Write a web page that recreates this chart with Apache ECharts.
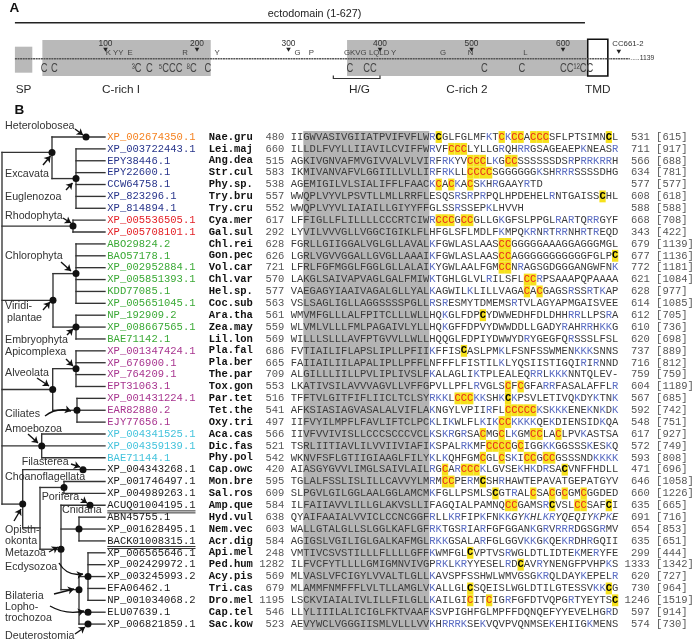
<!DOCTYPE html>
<html>
<head>
<meta charset="utf-8">
<title>Protein domain map and TMD alignment</title>
<script src="https://cdn.jsdelivr.net/npm/echarts@6/dist/echarts.min.js"></script>
<style>
html,body{margin:0;padding:0;background:#ffffff;}
#chart{width:693px;height:642px;}
</style>
</head>
<body>
<div id="chart"></div>
<script>
// ================= DATA : panel A (protein map) =================
const proteinLength = 1139;
const ectodomainRange = [1, 624];
const ectodomainLabel = 'ectodomain (1-627)';
const domainNames = ['SP', 'C-rich I', 'C-rich 2', 'TMD'];
const domainStart = [1, 31, 364, 627];
const domainEnd = [20, 215, 626, 649];
const hgRange = [349, 400];
const hgLabel = 'H/G';
const positionTicks = [100, 200, 300, 400, 500, 600];
const positionTickLabels = ['100', '200', '300', '400', '500', '600'];
const siteMarkerPos = [661];
const siteMarkerLabels = ['CC661-2'];
const residueMarks = ['K', 'YY', 'E', 'R', 'Y', 'G', 'P', 'GKVG', 'LQLD', 'Y', 'G', 'N', 'L'];
const residueMarkPos = [103, 114, 127, 187, 222, 310, 325, 373, 399, 415, 469, 499, 559];
const cysMarks = ['C', 'C', '\u00B3C', 'C', '\u2075CCC', '\u2078C', 'C', 'C', 'CC', 'C', 'C', 'CC\u00B9\u00B2CC'];
const cysMarkPos = [33, 44, 134, 148, 171, 194, 212, 367, 389, 514, 555, 615];

// ================= DATA : panel B (tree + alignment) =================
const accessions = ['XP_002674350.1','XP_003722443.1','EPY38446.1','EPY22600.1','CCW64758.1','XP_823296.1','XP_814894.1',
 'XP_005536505.1','XP_005708101.1','ABO29824.2','BAO57178.1','XP_002952884.1','XP_005851393.1','KDD77085.1','XP_005651045.1',
 'NP_192909.2','XP_008667565.1','BAE71142.1','XP_001347424.1','XP_676900.1','XP_764209.1','EPT31063.1','XP_001431224.1',
 'EAR82880.2','EJY77656.1','XP_004341525.1','XP_004359139.1','BAE71144.1','XP_004343268.1','XP_001746497.1','XP_004989263.1',
 'ACUQ01004195.1','ABN45755.1','XP_001628495.1','BACK01008315.1','XP_006565646.1','XP_002429972.1','XP_003245993.2',
 'EFA06462.1','NP_001034068.2','ELU07639.1','XP_006821859.1'];
const species = ['Nae.gru','Lei.maj','Ang.dea','Str.cul','Phy.sp.','Try.bru','Try.cru','Cya.mer','Gal.sul','Chl.rei','Gon.pec',
 'Vol.car','Chl.var','Hel.sp.','Coc.sub','Ara.tha','Zea.may','Lil.lon','Pla.fal','Pla.ber','The.par','Tox.gon','Par.tet',
 'Tet.the','Oxy.tri','Aca.cas','Dic.fas','Phy.pol','Cap.owc','Mon.bre','Sal.ros','Amp.que','Hyd.vul','Nem.vec','Acr.dig',
 'Api.mel','Ped.hum','Acy.pis','Tri.cas','Dro.mel','Cap.tel','Sac.kow'];
const taxonGroup = ['Heterolobosea','Euglenozoa','Euglenozoa','Euglenozoa','Euglenozoa','Euglenozoa','Euglenozoa',
 'Rhodophyta','Rhodophyta','Viridiplantae','Viridiplantae','Viridiplantae','Viridiplantae','Viridiplantae','Viridiplantae',
 'Viridiplantae','Viridiplantae','Viridiplantae','Alveolata','Alveolata','Alveolata','Alveolata','Alveolata','Alveolata',
 'Alveolata','Amoebozoa','Amoebozoa','Amoebozoa','Opisthokonta','Opisthokonta','Opisthokonta','Opisthokonta','Opisthokonta',
 'Opisthokonta','Opisthokonta','Opisthokonta','Opisthokonta','Opisthokonta','Opisthokonta','Opisthokonta','Opisthokonta','Opisthokonta'];
const genomicAccessions = ['ACUQ01004195.1', 'BACK01008315.1'];
const startPos = [480,660,515,583,538,557,552,617,292,628,626,721,570,577,563,561,559,569,686,665,709,553,516,541,497,566,521,542,
 420,595,609,584,638,603,584,248,1282,569,679,1195,546,523];
const endPos = [531,711,566,634,577,608,588,668,343,679,677,772,621,628,614,612,610,620,737,716,759,604,567,592,548,617,572,593,
 471,646,660,635,691,654,635,299,1333,620,730,1246,597,574];
const totalLength = [615,917,688,781,577,618,588,708,422,1139,1136,1181,1084,977,1085,705,736,698,889,812,759,1189,685,742,751,
 927,749,808,696,1058,1226,665,716,853,651,444,1342,727,964,1519,914,730];
const sequences = [
 'IIGWVASIVGIIATPVIFVFLWRCGLFGLMFKTCKCCACCCSFLPTSIMNCL',
 'ILLDLFVYLLIIAVILCVIFFWRVFCCCLYLLGRQHRRGSAGEAEPKNEASR',
 'AGKIVGNVAFMVGIVVALVLVIRFRKYVCCCLKGCCSSSSSSDSRPRRKRRH',
 'IKMIVANVAFVLGGIILLVLLIRFRKLLCCCCSGGGGGGKSHRRRSSSSDHG',
 'AGEMIGILVLSIALIFFLFAACKCACKACSKHRGAAYRTD',
 'WWQPLVYVLPSVTLLMLLRRFLESQSRSRPRPQLHPDEHELRNTGAISSCHL',
 'WWQPLVYVLIAIAILLGIYYFFGLSSRSSEPKLHVVH',
 'LFFIGLLFLILLLLCCCRTCIWRCCCGCCGLLGKGFSLPPGLRARTQRRGYF',
 'LYVILVVVGLLVGGCIGIKLFLHFGLSFLMDLFKMPQKRNRTRRNHRTREQD',
 'FGRLLGIIGGALVGLGLLAVALKFGWLASLAASCCGGGGGAAAGGAGGGMGL',
 'LGRLVGVVGGALLGVGLLAAAIKFGWLASLAASCCAGGGGGGGGGGGFGLPC',
 'LFRLFGFMGGLFGGLGLLALAIKYGWLAALFGMCCNRAGSGDGGGANGWFNK',
 'LAKGLSAIVAPVAGLGALFMIWKTGHLGLVLRILSFLCCRPSAAAPQPAAAA',
 'VAEGAGYIAAIVAGALGLLYALKAGWILKLILLVAGACACGAGSRSSRTKAP',
 'VSLSAGLIGLLAGGSSSSPGLLRSRESMYTDMEMSRTVLAGYAPMGAISVEE',
 'WMVMFGLLLALFPITCLLLWLLHQKGLFDPCYDWWEDHFDLDHHRRLLPSRA',
 'WLVMLVLLLFMLPAGAIVLYLLHQKGFFDPVYDWWDDLLGADYRAHRRHKKG',
 'WILLLSLLLAVFPTGVVLLWLLHQQGLFDPIYDWWYDRYGEGFQRSSSLFSL',
 'FVTIAILIFLAPSLIPLLPFIIKFFISCASLPMKLFSNFSSWMENKKKSNNS',
 'FAIIAILIILAPALIPLLPFFLNFFFLFISTILKLYQSIISTIGQIRIRNND',
 'ALGILLLIILLPVLIPLIVSLFKALAGLIKTPLEALEQRRLKKKNNTQLEV-',
 'LKATIVSILAVVVAGVLLVFFGPVLLPFLRVGLSCFCGFARRFASALAFFLR',
 'TFFTVLGITFIFLIICLTCLSYRKKLCCCKKSHKCKPSVLETIVQKDYKTNK',
 'AFKSIASIAGVASALALVIFLAKNGYLVPIIRFLCCCCCKSKKKENEKNKDK',
 'IIFVYILMPFLFAVLIFTCLPCKLIKWLFLKIKCCKKKKQEKDIENSIDKQA',
 'IIVFVVIVISLLCCCSCCCVCLKSKRGRSACMGCLKGMCCLACLPVKASTSA',
 'TSRLIITIAVLILVVIIVIAFIKSPALRKMFCCCCGCIGGKKGGSSSKESKQ',
 'WKNVFSFLGTIIGIAAGLFILYKLKQHFGMCGLCSKICCGCCGSSSNDKKKK',
 'AIASGYGVVLIMGLSAIVLAILRGCARCCCKLGVSEKHKDRSACVNFFHDLL',
 'TGLALFSSLISLILLCAVVYLMRMCCPERMCSHRHAWTEPAVATGEPATGYV',
 'SLPGVLGILGGLAALGGLAMCMKFGLLPSMLSCGTRALCSACGCGMCGGDED',
 'ILFAIIAVVLILLGLAKVSLLIFAGQIALPAMNQCCGAMSRCVSLCCSAFCI',
 'QYAIFAAIALVVICLCCNCGGFRLLKRFIPKFNKKGYKHLKRYQEQIYKPKE',
 'WALLGTALGLLSLGGLKAFLGFRKTGSRIARFGFGGANKGRVRRRDGSGRMV',
 'AGIGSLVGILIGLGALKAFMGLRKKGSALARFGLGGVKKGKQEKRDHRGQII',
 'VMTIVCSVSTILLLFLLLLGFFKWMFGLCVPTVSRWGLDTLIDTEKMERYFE',
 'ILFVCFYTLLLLGMIGMNVIVGPRKLKRYYESELRDCAVRYNENGFPVHPKS',
 'MLVASLVFCIGYLVVALTLGLLKAVSPFSSHWLWMVGSGKRQLDAYKEPELR',
 'MLAMMFNMFFFLVLTLLAMGLVKALLGLCSQEISLWGLDTILGTESSVKKCG',
 'LSCKVIAIALIVLILLFILGLLKAILGICITCIGRFGFDTVQPGRTYEYTSC',
 'LLYLIIILALICIGLFKTVAAFKSVPIGHFGLMPFFDQNQEFYYEVELHGRD',
 'AEVYWCLVGGGIISMLVLLLVVKHRRRKSEKVQVPVQNMSEKEHIIGKMENS'];
const tmdColumns = [2, 22];          // aligned columns of the transmembrane segment (shaded)
const italicFrom = {32: 35};         // Hyd.vul: tail set in italics

// Tree topology (x = branch depth, leaves = row indices)
const treeTopology = {name: 'root', x: 2, dot: false, children: [
  {name: 'Excavata', x: 52, y: 1.3, children: [
    {leaf: 0, name: 'Heterolobosea', dotX: 86},
    {name: 'Euglenozoa', x: 76, children: [1, 2, 3, 4, 5, 6]}]},
  {name: 'Rhodophyta', x: 73, children: [7, 8]},
  {name: 'Viridiplantae', x: 53, children: [
    {name: 'Chlorophyta', x: 76, children: [9, 10, 11, 12, 13, 14]},
    {name: 'Embryophyta', x: 76, children: [15, 16, 17]}]},
  {name: 'Alveolata', x: 52.7, children: [
    {name: 'Apicomplexa', x: 76, children: [18, 19, 20, 21]},
    {name: 'Ciliates', x: 77, children: [22, 23, 24]}]},
  {name: 'Amoebozoa', x: 41.7, children: [25, 26, 27]},
  {name: 'Opisthokonta', x: 22.7, y: 30.9, children: [
    {leaf: 28, name: 'Filasterea', dotX: 83},
    {name: 'Choanozoa', x: 40, y: 32.9, dot: false, children: [
      {name: 'Choanoflagellata', x: 64, children: [29, 30]},
      {name: 'Metazoa', x: 61, y: 34.7, children: [
        {leaf: 31, name: 'Porifera', dotX: 90},
        {name: 'Cnidaria', x: 79, children: [32, 33, 34]},
        {name: 'Bilateria', x: 79, y: 38.1, children: [
          {name: 'Ecdysozoa', x: 88, children: [35, 36, 37, 38, 39]},
          {leaf: 40, name: 'Lophotrochozoa', dotX: 88},
          {leaf: 41, name: 'Deuterostomia', dotX: 88}]}]}]}]}
]};

// Clade annotations (text) and their pointer arrows
const cladeLabels = ['Heterolobosea','Excavata','Euglenozoa','Rhodophyta','Chlorophyta','Viridi-','plantae','Embryophyta',
 'Apicomplexa','Alveolata','Ciliates','Amoebozoa','Filasterea','Choanoflagellata','Porifera','Cnidaria','Opisth-','okonta',
 'Metazoa','Ecdysozoa','Bilateria','Lopho-','trochozoa','Deuterostomia'];

// ================= LAYOUT / STYLE (not data) =================
const cladeLabelXY = [[5,126],[5,174],[5,197],[5,216],[5,256],[5,306],[7,318],[5,340],[5,352],[5,373],[5,414],[5,429],
 [21.7,462],[5,477],[41.7,497],[62,510],[5,530],[5,541],[5,553],[5,567],[5,596],[5,607.5],[5,618.5],[5,636]];
const arrowLayout = [
 [75,129,83,135,0],[43,165,50.5,156,0],[66,190,72.5,183,0],[63,218,71,223,0],[61,262,71,271,0],[43,310,50,302,0],
 [67,335,73,329,0],[66,359,73,366,0],[37,378,49,386,0],[45,416,71,411,0.25],[28,434,38,443,0],[71,464,80,467,0],
 [81,499,87,503,0],[14,521,21,509,0],[49,552,58,547,0],[59,563,83,574,-0.35],[54,594,74,589,0],[50,606,84,611,-0.2],
 [75,634,85,627,0]];

const SANS = '"Liberation Sans", Arial, Helvetica, sans-serif';
const NARROW = '"Liberation Sans Narrow", "Liberation Sans", Arial, sans-serif';
const MONO = '"Liberation Mono", "Courier New", monospace';
const GROUP_COLORS = {Heterolobosea: '#f58220', Euglenozoa: '#27348b', Rhodophyta: '#e31e24', Viridiplantae: '#3aa935',
  Alveolata: '#a8348f', Amoebozoa: '#43c3dc', Opisthokonta: '#1a1a1a'};
const TEXT = '#3a3a3a', BLUE = '#5a6cc2', RED = '#e8261f', HILITE = '#f6e11c', SHADE = '#b4b4b4', TREE = '#333333';
const LEAF_END = 105, ACC_X = 107.3;

// ================= RENDERERS =================
function txt(x, y, text, o) {
  return {type: 'text', x: x, y: y, style: Object.assign({text: text, fill: '#333', fontFamily: SANS, fontSize: 10.8,
    align: 'left', verticalAlign: 'middle'}, o || {})};
}

// Panel A ---------------------------------------------------------
function renderDomains(params, api) {
  const i = params.dataIndex;
  const s = api.value(0), e = api.value(1);
  const name = domainNames[i];
  let top = 40, bot = 76, style = {fill: '#b9b9b9'};
  if (name === 'SP') { top = 46.7; bot = 72.7; }
  if (name === 'TMD') { top = 39.3; bot = 76; style = {fill: '#ffffff', stroke: '#111', lineWidth: 1.6}; }
  const a = api.coord([s, top]), b = api.coord([e, bot]);
  let cx = (s + e) / 2;
  if (name === 'C-rich I') cx -= 6;
  const c = api.coord([cx, 89.5]);
  return {type: 'group', children: [
    {type: 'rect', shape: {x: a[0], y: a[1], width: b[0] - a[0], height: b[1] - a[1]}, style: style},
    txt(c[0], c[1], name, {align: 'center', fontSize: 11.8, fill: '#2a2a2a'})
  ]};
}
function renderBackbone(params, api) {
  const a = api.coord([api.value(0), 58.7]), b = api.coord([api.value(1), 58.7]);
  const ea = api.coord([ectodomainRange[0], 22.7]), eb = api.coord([ectodomainRange[1], 22.7]);
  const et = api.coord([(ectodomainRange[0] + ectodomainRange[1]) / 2 + 16, 14.5]);
  const ha = api.coord([hgRange[0], 78.5]), hb = api.coord([hgRange[1], 78.5]);
  const ht = api.coord([(hgRange[0] + hgRange[1]) / 2 + 3, 89.5]);
  return {type: 'group', children: [
    {type: 'line', shape: {x1: a[0], y1: a[1], x2: b[0], y2: b[1]}, style: {stroke: '#555', lineWidth: 1.5, lineDash: [2, 0.6]}},
    txt(b[0] + 0.5, b[1] - 1, '.....' + proteinLength, {fontSize: 6.8, fill: '#333'}),
    {type: 'line', shape: {x1: ea[0], y1: ea[1], x2: eb[0], y2: eb[1]}, style: {stroke: '#222', lineWidth: 1.4}},
    txt(et[0], et[1], ectodomainLabel, {align: 'center', fontSize: 10.8, fill: '#222'}),
    {type: 'polyline', shape: {points: [[ha[0], ha[1] - 3], [ha[0], ha[1]], [hb[0], hb[1]], [hb[0], hb[1] - 3]]},
      style: {stroke: '#333', lineWidth: 1.2, fill: null}},
    txt(ht[0], ht[1], hgLabel, {align: 'center', fontSize: 11.8, fill: '#2a2a2a'})
  ]};
}
const tickPosAll = positionTicks.concat(siteMarkerPos);
const tickLabelAll = positionTickLabels.concat(siteMarkerLabels);
function renderTicks(params, api) {
  const i = params.dataIndex;
  const pos = api.value(0), label = tickLabelAll[i];
  const isSite = i >= positionTicks.length;
  const p = api.coord([pos, isSite ? 52 : 50]);
  const t = api.coord([pos, 43.5]);
  return {type: 'group', children: [
    {type: 'polygon', shape: {points: [[p[0] - 2.3, p[1] - 2.2], [p[0] + 2.3, p[1] - 2.2], [p[0], p[1] + 1.8]]}, style: {fill: '#222'}},
    txt(isSite ? t[0] - 6.5 : t[0], t[1], label, {align: isSite ? 'left' : 'center', fontSize: isSite ? 7.8 : 8.4,
      fontFamily: NARROW, fill: '#333'})
  ]};
}
function renderResidues(params, api) {
  const p = api.coord([api.value(0), 53.3]);
  return txt(p[0], p[1], residueMarks[params.dataIndex], {align: 'center', fontSize: 7.8, fill: '#444'});
}
function renderCys(params, api) {
  const p = api.coord([api.value(0), 68.5]);
  const el = txt(p[0], p[1], cysMarks[params.dataIndex], {align: 'center', fontSize: 12, fontFamily: SANS, fill: '#444'});
  el.scaleX = 0.78;
  return el;
}

// Panel B ---------------------------------------------------------
function renderShade(params, api) {
  const a = api.coord([api.value(0), -0.5]), b = api.coord([api.value(1), sequences.length - 0.5]);
  return {type: 'rect', shape: {x: a[0], y: a[1], width: b[0] - a[0], height: b[1] - a[1]}, style: {fill: SHADE}};
}
function renderRow(params, api) {
  const r = params.dataIndex;
  const seq = sequences[r];
  const sz = api.size([1, 1]);
  const cw = sz[0], rh = sz[1];
  const children = [];
  const cys = [];
  for (let i = tmdColumns[1]; i < seq.length; i++) if (seq[i] === 'C') cys.push(i);
  cys.forEach(function (i) {
    const p = api.coord([i + 0.5, r]);
    children.push({type: 'rect', shape: {x: p[0] - cw / 2, y: p[1] - rh / 2, width: cw, height: rh}, style: {fill: HILITE}});
  });
  for (let i = 0; i < seq.length; i++) {
    const ch = seq[i];
    const p = api.coord([i + 0.5, r]);
    let fill = TEXT, weight = 'normal';
    if (i >= tmdColumns[1] && (ch === 'K' || ch === 'R')) fill = BLUE;
    if (i >= tmdColumns[1] && ch === 'C') {
      const clustered = cys.some(function (j) { return j !== i && Math.abs(j - i) <= 3; });
      if (clustered) { fill = RED; } else { fill = '#000'; weight = 'bold'; }
    }
    const it = (italicFrom[r] !== undefined && i >= italicFrom[r]) ? 'italic' : 'normal';
    children.push(txt(p[0], p[1], ch, {align: 'center', fontFamily: MONO, fontSize: 10.5, fill: fill, fontWeight: weight, fontStyle: it}));
  }
  const sp = api.coord([-13, r]), st = api.coord([-1, r]), en = api.coord([57, r]), tl = api.coord([58, r]);
  children.push(txt(sp[0], sp[1], species[r], {fontFamily: MONO, fontSize: 10.5, fontWeight: 'bold', fill: '#111'}));
  children.push(txt(st[0], st[1], String(startPos[r]), {align: 'right', fontFamily: MONO, fontSize: 10.5, fill: '#555'}));
  children.push(txt(en[0], en[1], String(endPos[r]), {align: 'right', fontFamily: MONO, fontSize: 10.5, fill: '#555'}));
  children.push(txt(tl[0], tl[1], '[' + totalLength[r] + ']', {fontFamily: MONO, fontSize: 10.5, fill: '#555'}));
  return {type: 'group', children: children};
}
function renderAccession(params, api) {
  const r = params.dataIndex;
  const p = api.coord([ACC_X, r]);
  const color = GROUP_COLORS[taxonGroup[r]];
  const children = [txt(p[0], p[1], accessions[r], {fontFamily: MONO, fontSize: 10.5, fill: color})];
  if (genomicAccessions.indexOf(accessions[r]) >= 0) {
    const w = accessions[r].length * 6.3;
    [5.6, 7.6].forEach(function (dy) {
      children.push({type: 'line', shape: {x1: p[0], y1: p[1] + dy, x2: p[0] + w, y2: p[1] + dy}, style: {stroke: color, lineWidth: 0.9}});
    });
  }
  return {type: 'group', children: children};
}
function renderTree(params, api) {
  const children = [], dots = [];
  function seg(x1, y1, x2, y2) {
    const a = api.coord([x1, y1]), b = api.coord([x2, y2]);
    children.push({type: 'line', shape: {x1: a[0], y1: a[1], x2: b[0], y2: b[1]}, style: {stroke: TREE, lineWidth: 1.35, lineCap: 'square'}});
  }
  function attachY(n) {
    if (typeof n === 'number') return n;
    if (n.leaf !== undefined) return n.leaf;
    if (n.y !== undefined) return n.y;
    const ys = n.children.map(attachY);
    return (Math.min.apply(null, ys) + Math.max.apply(null, ys)) / 2;
  }
  function draw(n, px) {
    if (typeof n === 'number' || n.leaf !== undefined) {
      const k = typeof n === 'number' ? n : n.leaf;
      seg(px, k, LEAF_END, k);
      if (n.dotX !== undefined) dots.push([n.dotX, k]);
      return;
    }
    const ys = n.children.map(attachY);
    seg(n.x, Math.min.apply(null, ys), n.x, Math.max.apply(null, ys));
    const ay = attachY(n);
    if (px !== null) seg(px, ay, n.x, ay);
    n.children.forEach(function (c) { draw(c, n.x); });
    if (n.dot !== false) dots.push([n.x, ay]);
  }
  draw(treeTopology, null);
  dots.forEach(function (d) {
    const c = api.coord(d);
    children.push({type: 'circle', shape: {cx: c[0], cy: c[1], r: 3.5}, style: {fill: '#111'}});
  });
  return {type: 'group', children: children};
}
function renderCladeLabel(params, api) {
  const p = api.coord([api.value(0), api.value(1)]);
  return txt(p[0], p[1], cladeLabels[params.dataIndex], {fontSize: 10.7, fill: '#333'});
}
function renderPanelLetter(params, api) {
  const p = api.coord([api.value(0), api.value(1)]);
  return txt(p[0], p[1], params.dataIndex === 0 ? 'A' : 'B', {fontSize: 13.5, fontWeight: 'bold', fill: '#111'});
}

// ================= CHART =================
const nRows = sequences.length;
const rowTop = 125.12, rowStep = 11.88;
const hiddenAxis = function (extra) { return Object.assign({type: 'value', show: false, scale: false}, extra); };
const option = {
  backgroundColor: '#ffffff',
  animation: false,
  grid: [
    {left: 14, top: 0, width: 640.5, height: 95, containLabel: false, outerBoundsMode: 'none'},
    {left: 0, top: rowTop, width: 693, height: rowStep * (nRows + 1), containLabel: false, outerBoundsMode: 'none'},
    {left: 290.7, top: rowTop, width: 52 * 6.3, height: rowStep * (nRows + 1), containLabel: false, outerBoundsMode: 'none'},
    {left: 0, top: 0, width: 693, height: 642, containLabel: false, outerBoundsMode: 'none'}
  ],
  xAxis: [
    hiddenAxis({gridIndex: 0, min: 0, max: 700}),
    hiddenAxis({gridIndex: 1, min: 0, max: 693}),
    hiddenAxis({gridIndex: 2, min: 0, max: 52}),
    hiddenAxis({gridIndex: 3, min: 0, max: 693})
  ],
  yAxis: [
    hiddenAxis({gridIndex: 0, min: 0, max: 95, inverse: true}),
    hiddenAxis({gridIndex: 1, min: -1, max: nRows, inverse: true}),
    hiddenAxis({gridIndex: 2, min: -1, max: nRows, inverse: true}),
    hiddenAxis({gridIndex: 3, min: 0, max: 642, inverse: true})
  ],
  series: [
    {type: 'custom', name: 'domains', xAxisIndex: 0, yAxisIndex: 0, clip: false, silent: true, z: 1,
      data: domainStart.map(function (s, i) { return [s, domainEnd[i]]; }), renderItem: renderDomains},
    {type: 'custom', name: 'backbone', xAxisIndex: 0, yAxisIndex: 0, clip: false, silent: true, z: 2,
      data: [[1, 673]], renderItem: renderBackbone},
    {type: 'custom', name: 'ticks', xAxisIndex: 0, yAxisIndex: 0, clip: false, silent: true, z: 3,
      data: tickPosAll.map(function (p) { return [p, 50]; }), renderItem: renderTicks},
    {type: 'custom', name: 'residues', xAxisIndex: 0, yAxisIndex: 0, clip: false, silent: true, z: 3,
      data: residueMarkPos.map(function (p) { return [p, 53]; }), renderItem: renderResidues},
    {type: 'custom', name: 'cysteines', xAxisIndex: 0, yAxisIndex: 0, clip: false, silent: true, z: 3,
      data: cysMarkPos.map(function (p) { return [p, 68]; }), renderItem: renderCys},
    {type: 'custom', name: 'tmdShade', xAxisIndex: 2, yAxisIndex: 2, clip: false, silent: true, z: 1,
      data: [tmdColumns], renderItem: renderShade},
    {type: 'custom', name: 'alignment', xAxisIndex: 2, yAxisIndex: 2, clip: false, silent: true, z: 2,
      data: sequences.map(function (s, i) { return [0, i]; }), renderItem: renderRow},
    {type: 'custom', name: 'accessions', xAxisIndex: 1, yAxisIndex: 1, clip: false, silent: true, z: 2,
      data: accessions.map(function (s, i) { return [ACC_X, i]; }), renderItem: renderAccession},
    {type: 'custom', name: 'tree', xAxisIndex: 1, yAxisIndex: 1, clip: false, silent: true, z: 3,
      data: [[0, 0]], renderItem: renderTree},
    {type: 'custom', name: 'cladeLabels', xAxisIndex: 3, yAxisIndex: 3, clip: false, silent: true, z: 4,
      data: cladeLabelXY, renderItem: renderCladeLabel},
    {type: 'custom', name: 'panelLetters', xAxisIndex: 3, yAxisIndex: 3, clip: false, silent: true, z: 4,
      data: [[9.5, 8], [14.5, 110]], renderItem: renderPanelLetter},
    {type: 'lines', name: 'arrows', coordinateSystem: 'cartesian2d', xAxisIndex: 3, yAxisIndex: 3, silent: true, z: 5,
      symbol: ['none', 'arrow'], symbolSize: 6, lineStyle: {color: '#111', width: 1.4, opacity: 1},
      data: arrowLayout.map(function (a) { return {coords: [[a[0], a[1]], [a[2], a[3]]], lineStyle: {curveness: a[4]}}; })}
  ]
};
const chart = echarts.init(document.getElementById('chart'), null, {renderer: 'canvas', width: 693, height: 642});
chart.setOption(option);
</script>
</body>
</html>
